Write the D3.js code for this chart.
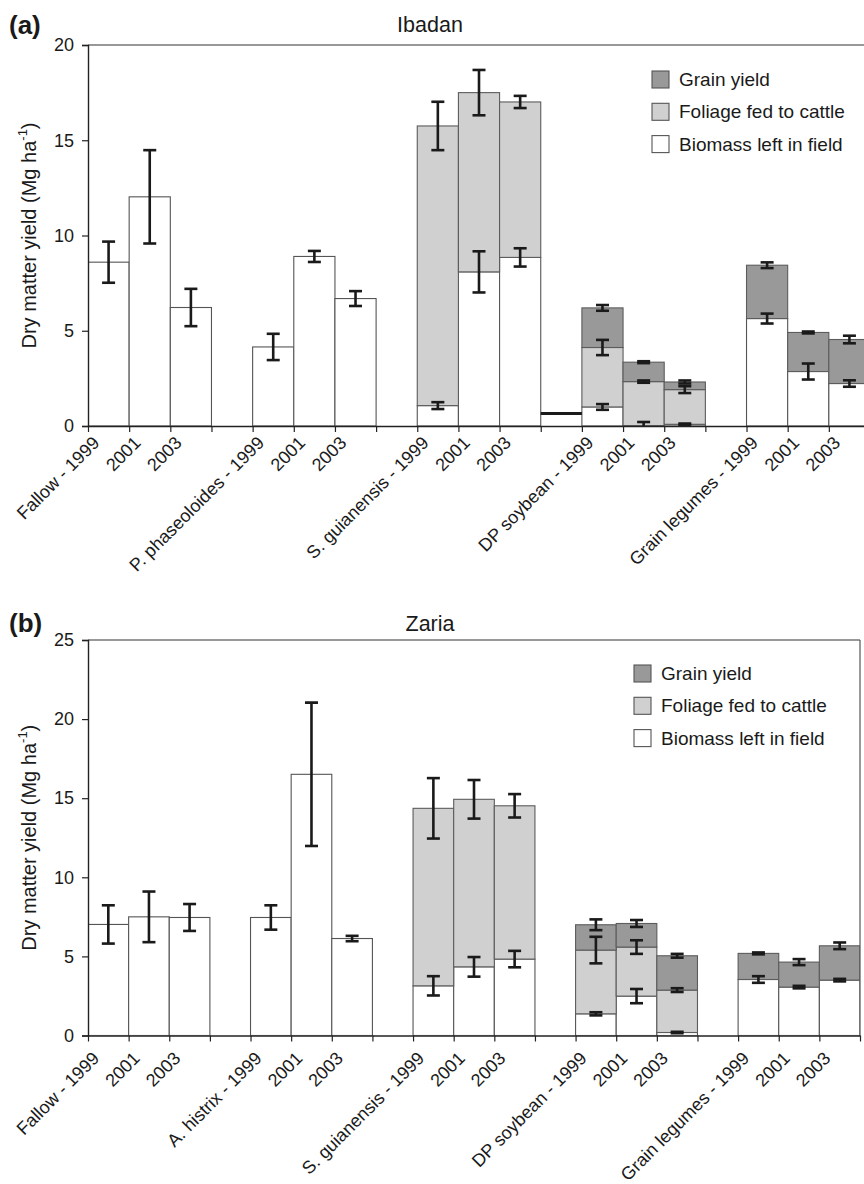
<!DOCTYPE html>
<html>
<head>
<meta charset="utf-8">
<script src="https://cdn.jsdelivr.net/npm/d3@7"></script>
<style>
  body { margin: 0; background: #fff; }
  svg { display: block; font-family: "Liberation Sans", Arial, Helvetica, sans-serif; }
</style>
</head>
<body>
<svg id="chart" width="864" height="1184"></svg>
<script>
/*****************************************/
/*   DATA                                */
/*****************************************/

// (a) Ibadan  - empty strings are the gaps between treatments
const categoriesA = ["Fallow - 1999", "2001", "2003", "",
    "P. phaseoloides - 1999", "2001", "2003", "",
    "S. guianensis - 1999", "2001", "2003", "",
    "DP soybean - 1999", "2001", "2003", "",
    "Grain legumes - 1999", "2001", "2003"];
const biomassA    = [8.60, 12.03, 6.22, 0, 4.15, 8.90, 6.69, 0, 1.07, 8.09, 8.85, 0, 1.00, 0.02, 0.09, 0, 5.64, 2.86, 2.23];
const biomassErrA = [1.08, 2.45, 0.98, 0, 0.69, 0.29, 0.39, 0, 0.18, 1.08, 0.48, 0, 0.15, 0.19, 0.04, 0, 0.26, 0.42, 0.17];
const foliageA    = [0, 0, 0, 0, 0, 0, 0, 0, 14.68, 9.41, 8.16, 0, 3.12, 2.31, 1.82, 0, 0, 0, 0];
const foliageErrA = [0, 0, 0, 0, 0, 0, 0, 0, 1.27, 1.19, 0.32, 0, 0.40, 0.06, 0.18, 0, 0, 0, 0];
const grainA      = [0, 0, 0, 0, 0, 0, 0, 0, 0, 0, 0, 0, 2.08, 1.02, 0.40, 0, 2.80, 2.05, 2.31];
const grainErrA   = [0, 0, 0, 0, 0, 0, 0, 0, 0, 0, 0, 0, 0.15, 0.05, 0.08, 0, 0.15, 0.05, 0.20];
// stray black dash drawn in the gap before DP soybean
const markA       = [null, null, null, null, null, null, null, null, null, null, null, 0.65, null, null, null, null, null, null, null];

// (b) Zaria
const categoriesB = ["Fallow - 1999", "2001", "2003", "",
    "A. histrix - 1999", "2001", "2003", "",
    "S. guianensis - 1999", "2001", "2003", "",
    "DP soybean - 1999", "2001", "2003", "",
    "Grain legumes - 1999", "2001", "2003"];
const biomassB    = [7.02, 7.50, 7.46, 0, 7.46, 16.51, 6.13, 0, 3.14, 4.34, 4.83, 0, 1.37, 2.49, 0.19, 0, 3.54, 3.06, 3.50];
const biomassErrB = [1.21, 1.60, 0.85, 0, 0.77, 4.53, 0.17, 0, 0.61, 0.62, 0.52, 0, 0.10, 0.45, 0.05, 0, 0.21, 0.08, 0.08];
const foliageB    = [0, 0, 0, 0, 0, 0, 0, 0, 11.22, 10.59, 9.69, 0, 4.03, 3.10, 2.68, 0, 0, 0, 0];
const foliageErrB = [0, 0, 0, 0, 0, 0, 0, 0, 1.91, 1.22, 0.74, 0, 0.84, 0.43, 0.12, 0, 0, 0, 0];
const grainB      = [0, 0, 0, 0, 0, 0, 0, 0, 0, 0, 0, 0, 1.60, 1.49, 2.17, 0, 1.65, 1.58, 2.17];
const grainErrB   = [0, 0, 0, 0, 0, 0, 0, 0, 0, 0, 0, 0, 0.34, 0.22, 0.12, 0, 0.06, 0.19, 0.21];
const markB       = categoriesB.map(() => null);

const legendLabels = ["Grain yield", "Foliage fed to cattle", "Biomass left in field"];
const yTicksA = [0, 5, 10, 15, 20];
const yTicksB = [0, 5, 10, 15, 20, 25];

/*****************************************/
/*   STYLE                               */
/*****************************************/
const colors = {biomass: "#ffffff", foliage: "#d0d0d0", grain: "#999999"};
const keys = ["biomass", "foliage", "grain"];
const ink = "#1a1a1a";

let svg = d3.select("#chart");

function drawPanel(cfg) {
    let n = cfg.categories.length;
    let rows = cfg.categories.map((c, i) => ({
        i: i,
        biomass: cfg.biomass[i], foliage: cfg.foliage[i], grain: cfg.grain[i],
        err: {biomass: cfg.biomassErr[i], foliage: cfg.foliageErr[i], grain: cfg.grainErr[i]}
    }));

    let x = d3.scaleBand()
        .domain(d3.range(n))
        .range([cfg.left, cfg.right])
        .padding(0);

    let xEdge = d3.scaleLinear()
        .domain([0, n])
        .range([cfg.left, cfg.right]);

    let y = d3.scaleLinear()
        .domain([0, cfg.yMax])
        .range([cfg.bottom, cfg.top]);

    let g = svg.append("g");

    // clip to plot area
    let clipId = "clip-" + cfg.id;
    g.append("clipPath").attr("id", clipId)
        .append("rect")
        .attr("x", cfg.left).attr("y", cfg.top)
        .attr("width", cfg.right - cfg.left).attr("height", cfg.bottom - cfg.top);

    let plot = g.append("g").attr("clip-path", "url(#" + clipId + ")");

    // ---- STACKED BARS ----
    let series = d3.stack().keys(keys)(rows);

    series.forEach(s => {
        plot.selectAll(".bar-" + s.key)
            .data(s.filter(d => d[1] - d[0] > 0))
            .enter()
            .append("rect")
            .attr("x", d => x(d.data.i))
            .attr("y", d => y(d[1]))
            .attr("width", x.bandwidth())
            .attr("height", d => y(d[0]) - y(d[1]))
            .attr("fill", colors[s.key])
            .attr("stroke", s.key == "biomass" ? "#555" : "#5c5c5c")
            .attr("stroke-width", 1.1);
    });

    // ---- ERROR BARS ----
    let errs = [];
    series.forEach(s => {
        s.forEach(d => {
            let e = d.data.err[s.key];
            if (d[1] - d[0] > 0 && e > 0) errs.push({i: d.data.i, v: d[1], e: e});
        });
    });

    let cap = 6.5;
    let eb = plot.selectAll(".err").data(errs).enter().append("g")
        .attr("stroke", ink).attr("stroke-width", 2.6).attr("fill", "none");
    eb.append("line")
        .attr("x1", d => x(d.i) + x.bandwidth() / 2).attr("x2", d => x(d.i) + x.bandwidth() / 2)
        .attr("y1", d => y(d.v + d.e)).attr("y2", d => y(d.v - d.e));
    eb.append("line")
        .attr("x1", d => x(d.i) + x.bandwidth() / 2 - cap).attr("x2", d => x(d.i) + x.bandwidth() / 2 + cap)
        .attr("y1", d => y(d.v + d.e)).attr("y2", d => y(d.v + d.e));
    eb.append("line")
        .attr("x1", d => x(d.i) + x.bandwidth() / 2 - cap).attr("x2", d => x(d.i) + x.bandwidth() / 2 + cap)
        .attr("y1", d => y(d.v - d.e)).attr("y2", d => y(d.v - d.e));

    // stray dash
    plot.selectAll(".mark")
        .data(cfg.mark.map((v, i) => ({i: i, v: v})).filter(d => d.v != null))
        .enter().append("line")
        .attr("x1", d => x(d.i)).attr("x2", d => x(d.i) + x.bandwidth())
        .attr("y1", d => y(d.v)).attr("y2", d => y(d.v))
        .attr("stroke", ink).attr("stroke-width", 3);

    // ---- FRAME ----
    g.append("line")
        .attr("x1", cfg.left).attr("x2", cfg.right)
        .attr("y1", cfg.top).attr("y2", cfg.top)
        .attr("stroke", "#333").attr("stroke-width", 1.2);
    g.append("line")
        .attr("x1", cfg.right).attr("x2", cfg.right)
        .attr("y1", cfg.top).attr("y2", cfg.bottom)
        .attr("stroke", "#555").attr("stroke-width", 1.2);

    // ---- AXES ----
    let yAxis = d3.axisLeft(y)
        .tickValues(cfg.yTicks)
        .tickSize(6)
        .tickPadding(8);

    let yAxisGroup = g.append("g")
        .attr("transform", "translate(" + cfg.left + ",0)")
        .call(yAxis);
    yAxisGroup.select(".domain").attr("stroke", "#222").attr("stroke-width", 1.4);
    yAxisGroup.selectAll(".tick line").attr("stroke", "#222").attr("stroke-width", 1.2);
    yAxisGroup.selectAll(".tick text")
        .attr("font-size", 18).attr("fill", ink)
        .attr("font-family", "'Liberation Sans', Arial, sans-serif");

    let xAxis = d3.axisBottom(xEdge)
        .tickValues(d3.range(n + 1))
        .tickFormat("")
        .tickSize(6)
        .tickSizeOuter(0);

    let xAxisGroup = g.append("g")
        .attr("transform", "translate(0," + cfg.bottom + ")")
        .call(xAxis);
    xAxisGroup.select(".domain").attr("stroke", "#222").attr("stroke-width", 1.6);
    xAxisGroup.selectAll(".tick line").attr("stroke", "#222").attr("stroke-width", 1.2);

    g.selectAll(".xlab")
        .data(cfg.categories.map((c, i) => ({c: c, i: i})).filter(d => d.c != ""))
        .enter().append("text")
        .attr("transform", d => "translate(" + (x(d.i) + x.bandwidth() / 2 - 8) + "," + (cfg.bottom + cfg.labelDy) + ") rotate(-45)")
        .attr("text-anchor", "end")
        .attr("font-size", 18)
        .attr("fill", ink)
        .text(d => d.c);

    // y title
    let yt = g.append("text")
        .attr("transform", "translate(36," + ((cfg.top + cfg.bottom) / 2) + ") rotate(-90)")
        .attr("text-anchor", "middle")
        .attr("font-size", 20)
        .attr("fill", ink);
    yt.append("tspan").text("Dry matter yield (Mg ha");
    yt.append("tspan").attr("font-size", 13).attr("dy", -9).text("-1");
    yt.append("tspan").attr("dy", 9).text(")");

    // panel title + letter
    g.append("text")
        .attr("x", 430).attr("y", cfg.titleY)
        .attr("text-anchor", "middle")
        .attr("font-size", 21.5)
        .attr("fill", ink)
        .text(cfg.title);

    g.append("text")
        .attr("x", 9).attr("y", cfg.letterY)
        .attr("font-size", 26)
        .attr("font-weight", "bold")
        .attr("fill", ink)
        .text(cfg.letter);

    // ---- LEGEND ----
    let legKeys = ["grain", "foliage", "biomass"];
    let leg = g.selectAll(".leg")
        .data(legendLabels)
        .enter().append("g")
        .attr("transform", (d, i) => "translate(" + cfg.legendX + "," + (cfg.legendY + i * 32.3) + ")");
    leg.append("rect")
        .attr("width", 17).attr("height", 17)
        .attr("fill", (d, i) => colors[legKeys[i]])
        .attr("stroke", "#555").attr("stroke-width", 1.1);
    leg.append("text")
        .attr("x", 27).attr("y", 15)
        .attr("font-size", 19)
        .attr("fill", ink)
        .text(d => d);
}

drawPanel({
    id: "a", letter: "(a)", title: "Ibadan", titleY: 32, letterY: 34,
    categories: categoriesA, biomass: biomassA, biomassErr: biomassErrA,
    foliage: foliageA, foliageErr: foliageErrA, grain: grainA, grainErr: grainErrA, mark: markA,
    left: 88, right: 870, top: 45, bottom: 426, yMax: 20, yTicks: yTicksA,
    labelDy: 18, legendX: 652, legendY: 71
});

drawPanel({
    id: "b", letter: "(b)", title: "Zaria", titleY: 631, letterY: 632,
    categories: categoriesB, biomass: biomassB, biomassErr: biomassErrB,
    foliage: foliageB, foliageErr: foliageErrB, grain: grainB, grainErr: grainErrB, mark: markB,
    left: 88, right: 860, top: 640, bottom: 1035.5, yMax: 25, yTicks: yTicksB,
    labelDy: 24, legendX: 634, legendY: 665
});
</script>
</body>
</html>
